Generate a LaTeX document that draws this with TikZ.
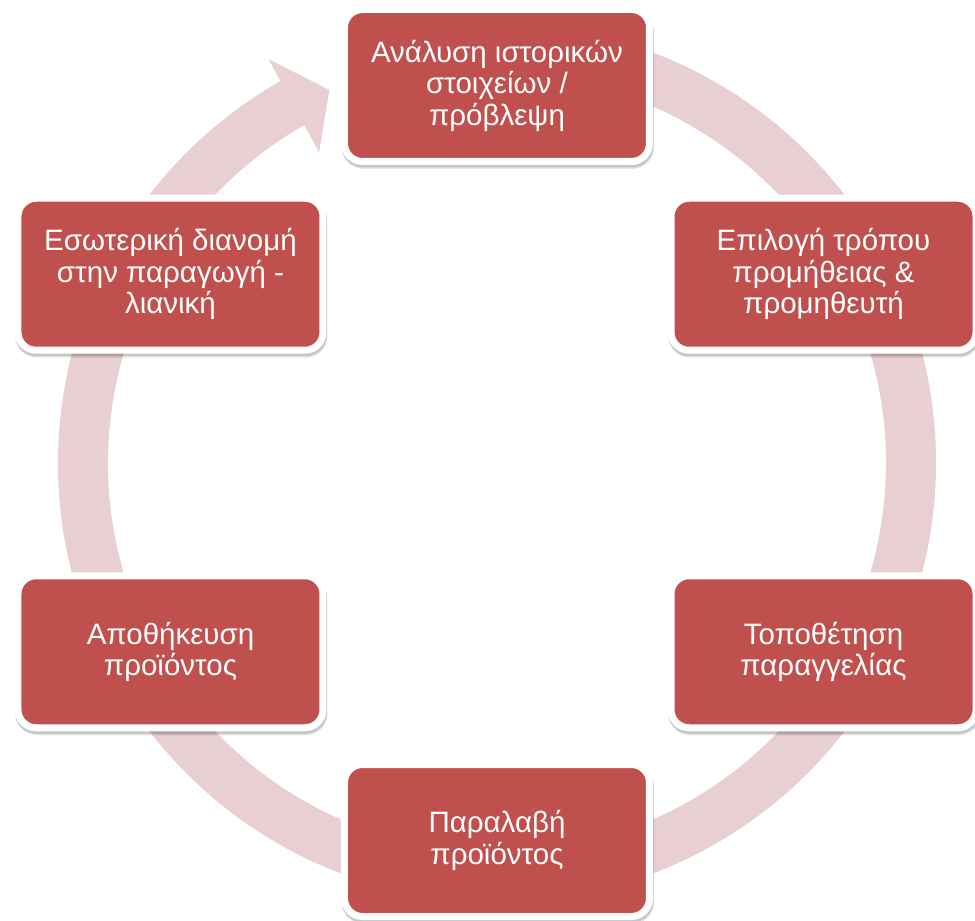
\documentclass[tikz,border=0pt]{standalone}
\usepackage{fontspec}
\setmainfont{Liberation Sans}
\usetikzlibrary{shapes.geometric}
\definecolor{boxred}{RGB}{192,80,77}
\definecolor{ringpink}{RGB}{232,207,209}
\begin{document}
\begin{tikzpicture}[x=1pt,y=1pt,
  stepbox/.style={rectangle, rounded corners=18pt, fill=boxred, draw=white, line width=7pt,
    minimum width=305pt, minimum height=152pt, inner sep=0pt,
    text=white, align=center,
    font=\fontsize{29.5}{31.5}\selectfont,
    preaction={draw=black, line width=7pt, opacity=0.10, transform canvas={shift={(1pt,-4pt)}}},
    preaction={draw=black, line width=7pt, opacity=0.14, transform canvas={shift={(0.5pt,-2.5pt)}}}},
  ring/.style={draw=ringpink, line width=50pt},
  ringhead/.style={fill=ringpink, draw=none}]
\useasboundingbox (-497,-458) rectangle (478,463);
% circular arrow
\draw[ring] (85:414) arc[start angle=85, end angle=-241, radius=414];
\coordinate (hb1) at (119.5:464);
\coordinate (hb2) at (119.8:358);
\coordinate (htip) at (114.2:409);
\fill[ringhead] (hb1) -- (htip) -- (hb2) -- cycle;
% boxes
\node[stepbox] (s1) at (0,377.5) {Ανάλυση ιστορικών\\στοιχείων /\\πρόβλεψη};
\node[stepbox] (s2) at (326.5,188.75) {Επιλογή τρόπου\\προμήθειας \&\\προμηθευτή};
\node[stepbox] (s3) at (326.5,-188.75) {Τοποθέτηση\\παραγγελίας};
\node[stepbox] (s4) at (0,-377.5) {Παραλαβή\\προϊόντος};
\node[stepbox] (s5) at (-326.5,-188.75) {Αποθήκευση\\προϊόντος};
\node[stepbox] (s6) at (-326.5,188.75) {Εσωτερική διανομή\\στην παραγωγή -\\λιανική};
\end{tikzpicture}
\end{document}
